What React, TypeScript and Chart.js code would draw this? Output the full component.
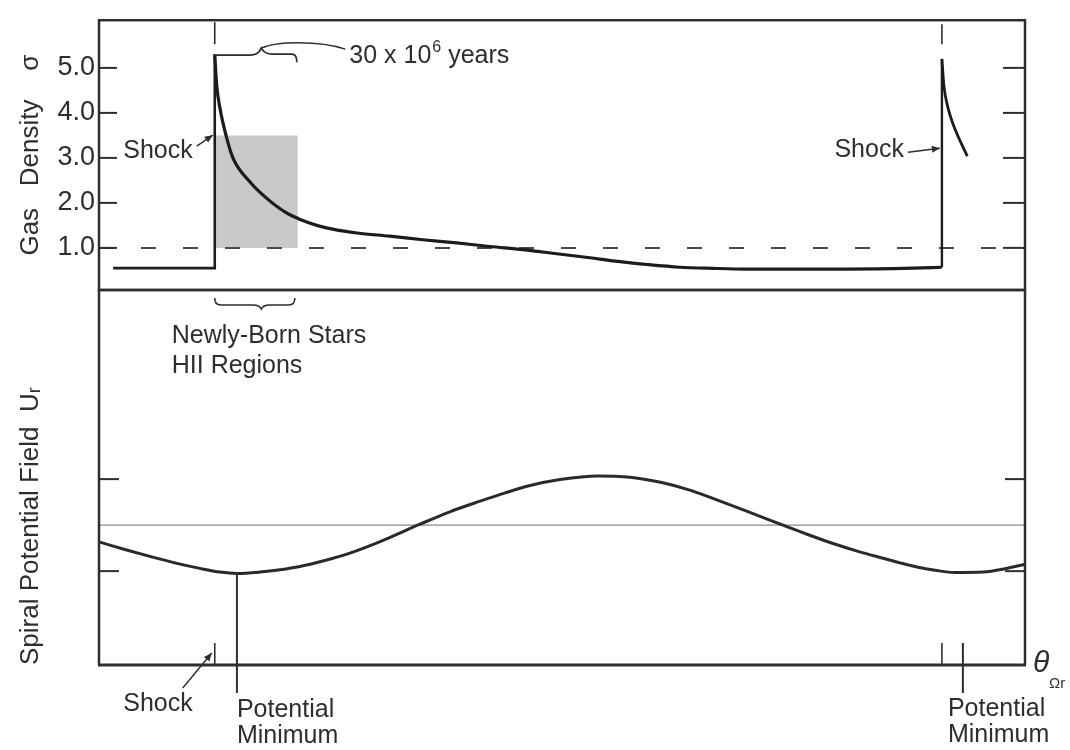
import React, { useEffect, useRef } from "react";
import { Chart, registerables } from "chart.js";

Chart.register(...registerables);

// ---------- data (θ in degrees of spiral phase) ----------
const THETA_MIN = -34.2;
const THETA_MAX = 195.4;

// top panel: gas density σ
const DENSITY_MIN = 0.064;
const DENSITY_MAX = 6.06;
const densityTicks = [1, 2, 3, 4, 5];
const referenceDensity = 1.0;

const preShockTheta = [-30.7, -5.5, -5.5];
const preShockDensity = [0.55, 0.55, 5.3];

const densityTheta = [-5.5, -5.0, -4.2, -2.7, -1.0, 3.2, 7.4, 12.4, 16.0, 19.8, 24.0, 29.8, 37.9, 46.1, 54.5, 62.7, 70.9, 79.3, 87.5, 93.2, 101.7, 109.8, 118.0, 126.5, 151.3, 167.6, 174.8];
const densityValues = [5.3, 4.6, 4.1, 3.5, 3.0, 2.47, 2.1, 1.77, 1.62, 1.5, 1.41, 1.33, 1.26, 1.18, 1.11, 1.03, 0.96, 0.87, 0.78, 0.71, 0.63, 0.57, 0.545, 0.53, 0.53, 0.55, 0.57];

const secondJumpTheta = [174.8, 174.8];
const secondJumpDensity = [0.57, 5.2];
const secondDecayTheta = [174.8, 175.3, 176.2, 177.6, 179.3, 181.1];
const secondDecayDensity = [5.2, 4.6, 4.15, 3.74, 3.38, 3.04];

const shockTheta = [-5.5, 174.8];
const starBoxTheta = [-5.5, 15.1];
const starBoxDensity = [1.0, 3.5];

// bottom panel: spiral potential field
const POTENTIAL_MIN = -3.04;
const POTENTIAL_MAX = 5.11;
const potentialTicks = [-1, 1];
const referencePotential = 0;

const potentialTheta = [-34.0, -27.8, -21.6, -15.4, -9.2, -4.2, 0, 5.7, 10.7, 15.6, 21.8, 28.0, 35.5, 45.4, 52.8, 60.3, 66.5, 72.7, 80.1, 89.3, 97.5, 105.6, 112.3, 118.0, 125.9, 133.9, 140.8, 147.8, 154.0, 160.2, 164.4, 168.6, 173.1, 178.0, 185.0, 190.4, 195.4];
const potentialValues = [-0.37, -0.53, -0.68, -0.82, -0.94, -1.02, -1.05, -1.02, -0.97, -0.9, -0.77, -0.61, -0.36, 0.02, 0.29, 0.52, 0.7, 0.86, 0.99, 1.07, 1.04, 0.92, 0.76, 0.58, 0.32, 0.05, -0.18, -0.4, -0.57, -0.72, -0.82, -0.91, -0.98, -1.03, -1.02, -0.95, -0.85];

const potentialMinimumTheta = [0, 180];

// ---------- styling ----------
const INK = "#2e2e2e";
const FONT = '"Liberation Sans", "DejaVu Sans", Arial, sans-serif';

const pts = (xs: number[], ys: number[]) => xs.map((x, i) => ({ x, y: ys[i] }));

function seg(ctx: CanvasRenderingContext2D, x1: number, y1: number, x2: number, y2: number) {
  ctx.beginPath();
  ctx.moveTo(x1, y1);
  ctx.lineTo(x2, y2);
  ctx.stroke();
}

function arrow(ctx: CanvasRenderingContext2D, x1: number, y1: number, x2: number, y2: number) {
  seg(ctx, x1, y1, x2, y2);
  const a = Math.atan2(y2 - y1, x2 - x1);
  const L = 8;
  const W = 3.5;
  ctx.beginPath();
  ctx.moveTo(x2, y2);
  ctx.lineTo(x2 - L * Math.cos(a) + W * Math.sin(a), y2 - L * Math.sin(a) - W * Math.cos(a));
  ctx.lineTo(x2 - L * Math.cos(a) - W * Math.sin(a), y2 - L * Math.sin(a) + W * Math.cos(a));
  ctx.closePath();
  ctx.fill();
}

const topDecor = {
  id: "topDecor",
  afterDraw(chart: any) {
    const ctx: CanvasRenderingContext2D = chart.ctx;
    const ca = chart.chartArea;
    const xs = chart.scales.x;
    const ys = chart.scales.y;
    ctx.save();
    ctx.strokeStyle = INK;
    ctx.fillStyle = INK;
    ctx.lineCap = "butt";

    // frame
    ctx.lineWidth = 2.5;
    ctx.strokeRect(ca.left, ca.top, ca.right - ca.left, ca.bottom - ca.top);

    // inward ticks
    ctx.lineWidth = 2;
    densityTicks.forEach((v) => {
      const y = ys.getPixelForValue(v);
      seg(ctx, ca.left, y, ca.left + 18, y);
      seg(ctx, ca.right - 22, y, ca.right, y);
    });

    const sx0 = xs.getPixelForValue(shockTheta[0]);
    const sx1 = xs.getPixelForValue(shockTheta[1]);
    const bx = xs.getPixelForValue(starBoxTheta[1]);
    const hx = (sx0 + bx) / 2 + 5;

    // shock marks at top edge
    ctx.lineWidth = 1.6;
    seg(ctx, sx0, ca.top + 2, sx0, ca.top + 24);
    seg(ctx, sx1, ca.top + 4, sx1, ca.top + 24);

    // 30 x 10^6 years bracket
    const yb = ca.top + 35;
    ctx.lineWidth = 1.8;
    ctx.beginPath();
    ctx.moveTo(sx0, yb);
    ctx.lineTo(hx - 11, yb);
    ctx.quadraticCurveTo(hx - 3, yb, hx, yb - 7);
    ctx.quadraticCurveTo(hx + 3, yb - 1, hx + 11, yb - 1);
    ctx.lineTo(bx - 6, yb - 1);
    ctx.quadraticCurveTo(bx - 1, yb - 1, bx - 1, yb + 7);
    ctx.stroke();
    ctx.lineWidth = 1.4;
    ctx.beginPath();
    ctx.moveTo(hx, yb - 7);
    ctx.bezierCurveTo(hx + 14, yb - 14, hx + 58, yb - 15, hx + 84, yb - 6);
    ctx.stroke();

    ctx.textBaseline = "middle";
    ctx.textAlign = "left";
    ctx.font = `25px ${FONT}`;
    let tx = hx + 88;
    const ty = ca.top + 36;
    ctx.fillText("30 x 10", tx, ty);
    tx += ctx.measureText("30 x 10").width + 1;
    ctx.font = `16px ${FONT}`;
    ctx.fillText("6", tx, ty - 9);
    tx += ctx.measureText("6").width;
    ctx.font = `25px ${FONT}`;
    ctx.fillText(" years", tx, ty);

    // Shock labels
    ctx.textAlign = "right";
    ctx.fillText("Shock", sx0 - 22, ca.top + 131);
    ctx.lineWidth = 1.4;
    arrow(ctx, sx0 - 18, ca.top + 126, sx0 - 2, ca.top + 115);
    ctx.fillText("Shock", sx1 - 38, ca.top + 130);
    arrow(ctx, sx1 - 34, ca.top + 132, sx1 - 2, ca.top + 128);

    // brace under the panel + stars label
    const y0 = ca.bottom + 8;
    ctx.lineWidth = 1.6;
    ctx.beginPath();
    ctx.moveTo(sx0, y0);
    ctx.quadraticCurveTo(sx0, y0 + 7, sx0 + 6, y0 + 7);
    ctx.lineTo(hx - 8, y0 + 7);
    ctx.quadraticCurveTo(hx - 2, y0 + 7, hx, y0 + 11);
    ctx.quadraticCurveTo(hx + 2, y0 + 7, hx + 8, y0 + 7);
    ctx.lineTo(bx - 9, y0 + 7);
    ctx.quadraticCurveTo(bx - 3, y0 + 7, bx - 3, y0);
    ctx.stroke();

    ctx.textAlign = "left";
    ctx.fillText("Newly-Born Stars", sx0 - 43, ca.bottom + 46);
    ctx.fillText("HII Regions", sx0 - 43, ca.bottom + 76);
    ctx.restore();
  },
};

const bottomDecor = {
  id: "bottomDecor",
  afterDraw(chart: any) {
    const ctx: CanvasRenderingContext2D = chart.ctx;
    const ca = chart.chartArea;
    const xs = chart.scales.x;
    const ys = chart.scales.y;
    ctx.save();
    ctx.strokeStyle = INK;
    ctx.fillStyle = INK;

    // frame
    ctx.lineWidth = 2.5;
    seg(ctx, ca.left, ca.top, ca.left, ca.bottom);
    seg(ctx, ca.right, ca.top, ca.right, ca.bottom);
    seg(ctx, ca.left, ca.top, ca.right, ca.top);
    ctx.lineWidth = 3;
    seg(ctx, ca.left - 1, ca.bottom, ca.right + 1, ca.bottom);

    // inward ticks
    ctx.lineWidth = 2;
    potentialTicks.forEach((v) => {
      const y = ys.getPixelForValue(v);
      seg(ctx, ca.left, y, ca.left + 20, y);
      seg(ctx, ca.right - 20, y, ca.right, y);
    });

    const sx0 = xs.getPixelForValue(shockTheta[0]);
    const sx1 = xs.getPixelForValue(shockTheta[1]);
    const px0 = xs.getPixelForValue(potentialMinimumTheta[0]);
    const px1 = xs.getPixelForValue(potentialMinimumTheta[1]);

    // shock ticks on the axis
    ctx.lineWidth = 1.6;
    seg(ctx, sx0, ca.bottom - 22, sx0, ca.bottom);
    seg(ctx, sx1, ca.bottom - 22, sx1, ca.bottom);

    // potential minimum markers
    const idx = potentialTheta.indexOf(potentialMinimumTheta[0]);
    const yMin = idx >= 0 ? ys.getPixelForValue(potentialValues[idx]) : ca.bottom - 22;
    ctx.lineWidth = 2;
    seg(ctx, px0, yMin, px0, ca.bottom + 28);
    seg(ctx, px1, ca.bottom - 22, px1, ca.bottom + 28);

    // labels
    ctx.font = `25px ${FONT}`;
    ctx.textBaseline = "middle";
    ctx.textAlign = "right";
    ctx.fillText("Shock", sx0 - 22, ca.bottom + 39);
    ctx.lineWidth = 1.4;
    arrow(ctx, sx0 - 32, ca.bottom + 23, sx0 - 3, ca.bottom - 12);

    ctx.textAlign = "left";
    ctx.fillText("Potential", px0, ca.bottom + 45);
    ctx.fillText("Minimum", px0, ca.bottom + 71);
    ctx.fillText("Potential", px1 - 15, ca.bottom + 44);
    ctx.fillText("Minimum", px1 - 15, ca.bottom + 70);

    // axis symbol θ_Ωr
    ctx.font = `italic 30px ${FONT}`;
    ctx.fillText("θ", ca.right + 8, ca.bottom - 1);
    ctx.font = `15px ${FONT}`;
    ctx.fillText("Ωr", ca.right + 24, ca.bottom + 19);
    ctx.restore();
  },
};

const baseOptions = (padding: any) => ({
  animation: false as const,
  responsive: false,
  maintainAspectRatio: false,
  events: [] as any[],
  layout: { padding },
  plugins: {
    legend: { display: false },
    tooltip: { enabled: false },
    title: { display: false },
  },
  elements: { point: { radius: 0, hoverRadius: 0 } },
});

export default function App() {
  const topRef = useRef<HTMLCanvasElement>(null);
  const botRef = useRef<HTMLCanvasElement>(null);

  useEffect(() => {
    const xScale = {
      type: "linear" as const,
      min: THETA_MIN,
      max: THETA_MAX,
      display: false,
    };

    const curve = {
      borderColor: "#1c1c1c",
      fill: false,
      order: 0,
    };

    const top = new Chart(topRef.current!, {
      type: "line",
      data: {
        datasets: [
          {
            ...curve,
            label: "Gas density (post-shock)",
            data: pts(densityTheta, densityValues),
            borderWidth: 3.2,
            cubicInterpolationMode: "monotone",
          },
          {
            ...curve,
            label: "Gas density (pre-shock)",
            data: pts(preShockTheta, preShockDensity),
            borderWidth: 2.6,
            tension: 0,
          },
          {
            ...curve,
            label: "Gas density (next shock jump)",
            data: pts(secondJumpTheta, secondJumpDensity),
            borderWidth: 2.4,
            tension: 0,
          },
          {
            ...curve,
            label: "Gas density (next shock decay)",
            data: pts(secondDecayTheta, secondDecayDensity),
            borderWidth: 2.8,
            cubicInterpolationMode: "monotone",
          },
          {
            label: "Mean density",
            data: pts([THETA_MIN, THETA_MAX], [referenceDensity, referenceDensity]),
            borderColor: "#4a4a4a",
            borderWidth: 2,
            borderDash: [15, 27],
            fill: false,
            order: 2,
          },
          {
            label: "Newly-born stars / HII regions",
            data: pts(starBoxTheta, [starBoxDensity[1], starBoxDensity[1]]),
            borderWidth: 0,
            borderColor: "rgba(0,0,0,0)",
            backgroundColor: "#c9c9c9",
            fill: { value: starBoxDensity[0] },
            order: 3,
          },
        ],
      },
      options: {
        ...baseOptions({ left: 0, right: 45, top: 8, bottom: 460 }),
        scales: {
          x: xScale,
          y: {
            type: "linear",
            min: DENSITY_MIN,
            max: DENSITY_MAX,
            afterBuildTicks: (s: any) => {
              s.ticks = densityTicks.map((v) => ({ value: v }));
            },
            afterFit: (s: any) => {
              s.width = 99;
            },
            grid: { display: false, drawTicks: false },
            border: { display: false },
            ticks: {
              autoSkip: false,
              padding: 4,
              color: INK,
              font: { family: FONT, size: 27 },
              callback: (v: any) => Number(v).toFixed(1),
            },
            title: {
              display: true,
              text: "Gas   Density    σ",
              color: INK,
              font: { family: FONT, size: 26 },
              padding: { top: 15, bottom: 0 },
            },
          },
        },
      },
      plugins: [topDecor],
    } as any);

    const bot = new Chart(botRef.current!, {
      type: "line",
      data: {
        datasets: [
          {
            label: "Spiral potential field",
            data: pts(potentialTheta, potentialValues),
            borderColor: "#2a2a2a",
            borderWidth: 3,
            cubicInterpolationMode: "monotone",
            fill: false,
            order: 0,
          },
          {
            label: "Zero level",
            data: pts([THETA_MIN, THETA_MAX], [referencePotential, referencePotential]),
            borderColor: "#8a8a8a",
            borderWidth: 1.4,
            fill: false,
            order: 1,
          },
        ],
      },
      options: {
        ...baseOptions({ left: 0, right: 45, top: 290, bottom: 85 }),
        scales: {
          x: xScale,
          y: {
            type: "linear",
            min: POTENTIAL_MIN,
            max: POTENTIAL_MAX,
            afterBuildTicks: (s: any) => {
              s.ticks = potentialTicks.map((v) => ({ value: v }));
            },
            afterFit: (s: any) => {
              s.width = 99;
            },
            grid: { display: false, drawTicks: false },
            border: { display: false },
            ticks: { display: false },
            title: {
              display: true,
              text: "Spiral Potential Field  Uᵣ",
              align: "start",
              color: INK,
              font: { family: FONT, size: 26 },
              padding: { top: 15, bottom: 0 },
            },
          },
        },
      },
      plugins: [bottomDecor],
    } as any);

    return () => {
      top.destroy();
      bot.destroy();
    };
  }, []);

  return (
    <div
      style={{
        position: "fixed",
        left: 0,
        top: 0,
        width: 1070,
        height: 750,
        background: "#ffffff",
        overflow: "hidden",
      }}
    >
      <canvas ref={botRef} width={1070} height={750} style={{ position: "absolute", left: 0, top: 0 }} />
      <canvas ref={topRef} width={1070} height={750} style={{ position: "absolute", left: 0, top: 0 }} />
    </div>
  );
}
